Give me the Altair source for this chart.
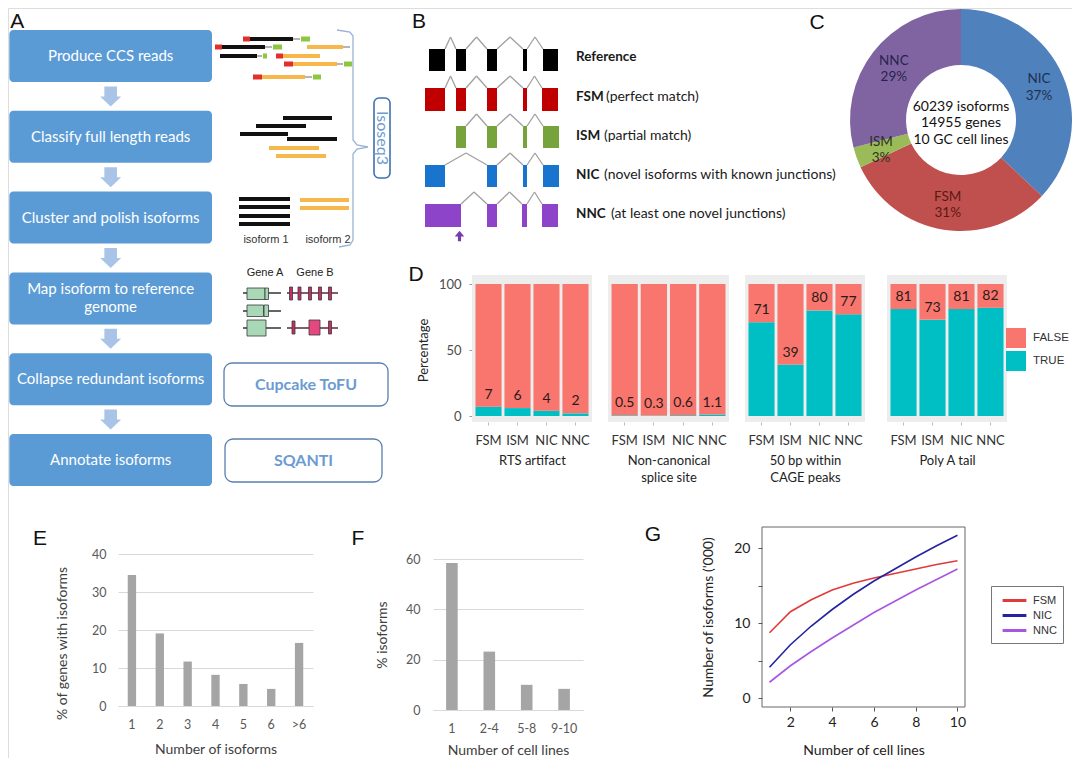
import altair as alt
import pandas as pd
import numpy as np

W, H = 1064, 750
FONT = "Lato"
ARIAL = "Liberation Sans"

# reference-pixel -> chart-pixel mapping (page has an 8px margin; squeeze only the outer 24px)
XK = [0, 24, 1056, 1080]
XV = [0, 16, 1048, 1064]
YK = [0, 24, 742, 766]
YV = [0, 16, 734, 750]


def fx(v):
    return float(np.interp(v, XK, XV))


def fy(v):
    return float(np.interp(v, YK, YV))


def IX():
    return alt.Scale(domain=XK, range=XV, zero=False, nice=False)


def IY():
    return alt.Scale(domain=YK, range=YV, zero=False, nice=False)


# ====================== DATA ======================
top_letters = ["A", "B", "C"]
top_letter_x = [14, 419, 817]
top_letter_y = [5, 5, 6]
mid_letters = ["D", "E", "F", "G"]
mid_letter_x = [416, 40, 358, 653]
mid_letter_y = [275, 539, 539, 535]

# Panel A - pipeline
flow_steps = ["Produce CCS reads", "Classify full length reads", "Cluster and polish isoforms",
              "Map isoform to reference genome", "Collapse redundant isoforms", "Annotate isoforms"]
flow_labels = ["Produce CCS reads", "Classify full length reads", "Cluster and polish isoforms",
               "Map isoform to reference\ngenome", "Collapse redundant isoforms", "Annotate isoforms"]
tool_names = ["Cupcake ToFU", "SQANTI"]
tool_box_x0 = [224, 225]
tool_box_x1 = [388, 382]
tool_box_y0 = [363, 439]
tool_box_y1 = [406, 482]

read_x0 = [243, 250, 293, 301, 215, 222, 265, 273, 307, 343, 220, 257, 263, 276, 283, 284, 293, 337, 344, 253, 262, 305, 313]
read_x1 = [250, 293, 300, 310, 222, 265, 272, 282, 343, 350, 257, 262, 267, 283, 320, 293, 337, 343, 352, 262, 305, 312, 321]
read_y = [39, 39, 39, 39, 47, 47, 47, 47, 47, 47, 56, 56, 56, 56, 56, 64, 64, 64, 64, 77, 77, 77, 77]
read_kind = ["r", "k", "g", "G", "r", "k", "g", "G", "o", "g", "k", "g", "G", "r", "o", "r", "o", "g", "G", "r", "o", "g", "G"]
clas_x0 = [283, 256, 240, 287, 269, 276]
clas_x1 = [332, 306, 288, 337, 319, 326]
clas_y = [118, 126, 134, 139, 148, 156]
clas_kind = ["k", "k", "k", "k", "o", "o"]
clus_x0 = [239, 239, 239, 239, 300, 300]
clus_x1 = [290, 290, 290, 290, 349, 349]
clus_y = [199, 207, 216, 224, 200, 208]
clus_kind = ["k", "k", "k", "k", "o", "o"]
kind_color = {"r": "#E0302C", "k": "#111111", "g": "#B5B5B5", "G": "#8DC63F", "o": "#F6B84A"}
kind_width = {"r": 5, "k": 4, "g": 2, "G": 5, "o": 4}

brace_x = [337, 350, 353, 353, 357, 368, 357, 353, 353, 350, 339]
brace_y = [30, 32, 36, 140, 145, 147, 149, 154, 240, 245, 247]

geneline_x0 = [243, 243, 243, 287, 287]
geneline_x1 = [281, 281, 281, 338, 338]
geneline_y = [293, 311, 328, 293, 328]
geneline_c = ["#333333", "#333333", "#333333", "#5A2A33", "#5A2A33"]
gexon_x0 = [247, 265, 247, 264, 247, 289.5, 298, 308.5, 318.5, 328.5, 292, 309, 328.5]
gexon_x1 = [265, 268.5, 263.5, 268.5, 266, 292.5, 301, 311.5, 321.5, 331.5, 295, 320, 331.5]
gexon_y0 = [288, 288, 305, 305, 320, 287, 287, 287, 287, 287, 321, 320, 321]
gexon_y1 = [299.5, 299.5, 316.5, 316.5, 336, 300, 300, 300, 300, 300, 334, 335, 334]
gexon_c = ["#A8D8B6"] * 5 + ["#C2306A"] * 5 + ["#C2306A", "#E4487E", "#C2306A"]

# Panel B - exon structures
b_rows = ["Reference", "FSM", "ISM", "NIC", "NNC"]
b_desc = ["(perfect match)", "(partial match)", "(novel isoforms with known junctions)",
          "(at least one novel junctions)"]
b_desc_x = [606, 604, 604, 611]
b_colors = ["#000000", "#C00000", "#77A33C", "#1874CD", "#8E44C8"]
b_top = [49, 88, 126, 165, 204]
b_bot = [71, 111, 148, 187, 227]
b_label_y = [57, 97, 136, 175, 214]
b_exons = [
    [(429, 445), (456, 466), (487, 497), (523, 527), (543, 558)],
    [(425, 445), (456, 466), (487, 497), (523, 527), (542, 558)],
    [(456, 466), (487, 497), (523, 527), (543, 559)],
    [(425, 445), (487, 497), (523, 527), (543, 559)],
    [(425, 461), (487, 497), (522, 527), (542, 558)],
]

# Panel C - donut
c_names = ["NIC", "FSM", "ISM", "NNC"]
c_values = [37, 31, 3, 29]
c_colors = ["#4F81BD", "#C0504D", "#9BBB59", "#8064A2"]
c_text_colors = ["#1F3050", "#5A1A18", "#2A3320", "#26244A"]
c_center_text = "60239 isoforms\n14955 genes\n10 GC cell lines"

# Panel D - stacked percentage bars
d_cats = ["FSM", "ISM", "NIC", "NNC"]
d_titles = ["RTS artifact", ["Non-canonical", "splice site"], ["50 bp within", "CAGE peaks"], "Poly A tail"]
d_true = [[7, 6, 4, 2], [0.5, 0.3, 0.6, 1.1], [71, 39, 80, 77], [81, 73, 81, 82]]
d_status = ["FALSE", "TRUE"]
d_colors = ["#F8766D", "#00BFC4"]

# Panel E
e_cats = ["1", "2", "3", "4", "5", "6", ">6"]
e_vals = [34.5, 19.1, 11.7, 8.2, 5.8, 4.5, 16.6]

# Panel F
f_cats = ["1", "2-4", "5-8", "9-10"]
f_vals = [58.4, 23.2, 10.0, 8.4]

# Panel G
g_x = [1, 2, 3, 4, 5, 6, 7, 8, 9, 10]
g_fsm = [8.7, 11.5, 13.1, 14.4, 15.3, 16.0, 16.6, 17.2, 17.8, 18.3]
g_nic = [4.1, 7.1, 9.6, 11.8, 13.8, 15.6, 17.2, 18.8, 20.3, 21.7]
g_nnc = [2.1, 4.3, 6.2, 8.0, 9.7, 11.4, 12.9, 14.4, 15.8, 17.2]
g_series = ["FSM", "NIC", "NNC"]
g_colors = ["#E03A3A", "#2424A0", "#A855E0"]

# ====================== LAYERS ======================
layers = []


def ix(f="x"):
    return alt.X(f + ":Q", scale=IX(), axis=None)


def iy(f="y"):
    return alt.Y(f + ":Q", scale=IY(), axis=None)


layers.append(alt.Chart(pd.DataFrame({"t": top_letters, "x": top_letter_x, "y": top_letter_y})).mark_text(
    font=ARIAL, fontSize=21, color="#111111", align="center", baseline="top").encode(
    x=ix(), y=iy(), text="t:N"))
layers.append(alt.Chart(pd.DataFrame({"t": mid_letters, "x": mid_letter_x, "y": mid_letter_y})).mark_text(
    font=ARIAL, fontSize=21, color="#111111", align="center", baseline="middle").encode(
    x=ix(), y=iy(), text="t:N"))

# ---------------- Panel A ----------------
FLOW_PI = 0.356
flow_step_px = (fy(486) - fy(30)) / (len(flow_steps) - FLOW_PI)


def flow_x():
    return alt.X("col:N", scale=alt.Scale(type="band", domain=["flow"], range=[fx(2), fx(212)],
                                          paddingInner=0, paddingOuter=0), axis=None)


def flow_y():
    return alt.Y("step:N", scale=alt.Scale(type="band", domain=flow_steps, range=[fy(30), fy(486)],
                                           paddingInner=FLOW_PI, paddingOuter=0), axis=None)


flow_df = pd.DataFrame({"step": flow_steps, "label": flow_labels, "col": ["flow"] * len(flow_steps)})
flow_df["lines"] = flow_df["label"].str.count("\n") + 1
layers.append(alt.Chart(flow_df).mark_rect(color="#5B9BD5", cornerRadius=4).encode(x=flow_x(), y=flow_y()))
layers.append(alt.Chart(flow_df[flow_df["lines"] == 1]).mark_text(
    color="white", font=FONT, fontSize=15, baseline="middle").encode(x=flow_x(), y=flow_y(), text="label:N"))
layers.append(alt.Chart(flow_df[flow_df["lines"] == 2]).mark_text(
    color="white", font=FONT, fontSize=15, baseline="middle", lineBreak="\n", lineHeight=18, dy=-9).encode(
    x=flow_x(), y=flow_y(), text="label:N"))
ARROW = "M-0.6,-0.95 L0.6,-0.95 L0.6,0 L1,0 L0,0.95 L-1,0 L-0.6,0 Z"
layers.append(alt.Chart(flow_df.iloc[:-1]).mark_point(shape=ARROW, size=441, filled=True, color="#A9C4E6", opacity=1,
                                                       yOffset=flow_step_px / 2).encode(x=flow_x(), y=flow_y()))

seg_df = pd.DataFrame({
    "x0": read_x0 + clas_x0 + clus_x0,
    "x1": read_x1 + clas_x1 + clus_x1,
    "y": read_y + clas_y + clus_y,
    "k": read_kind + clas_kind + clus_kind,
})
seg_df["c"] = seg_df["k"].map(kind_color)
seg_df["w"] = seg_df["k"].map(kind_width)
layers.append(alt.Chart(seg_df).mark_rule().encode(
    x=ix("x0"), x2="x1:Q", y=iy(), color=alt.Color("c:N", scale=None), size=alt.Size("w:Q", scale=None)))
layers.append(alt.Chart(pd.DataFrame({"t": ["isoform 1", "isoform 2"], "x": [266, 328], "y": [240, 240]})).mark_text(
    font=ARIAL, fontSize=11, color="#333333", baseline="middle").encode(x=ix(), y=iy(), text="t:N"))

layers.append(alt.Chart(pd.DataFrame({"x": brace_x, "y": brace_y, "o": list(range(len(brace_x)))})).mark_line(
    color="#9AB3D5", strokeWidth=1.3).encode(x=ix(), y=iy(), order="o:Q"))
layers.append(alt.Chart(pd.DataFrame({"x0": [374], "x1": [390], "y0": [98], "y1": [178]})).mark_rect(
    fill="white", stroke="#3F72AF", strokeWidth=1.6, cornerRadius=5).encode(x=ix("x0"), x2="x1:Q", y=iy("y0"), y2="y1:Q"))
layers.append(alt.Chart(pd.DataFrame({"t": ["Isoseq3"], "x": [382], "y": [138]})).mark_text(
    font=FONT, fontSize=16, color="#6D9BD1", angle=90, baseline="middle").encode(x=ix(), y=iy(), text="t:N"))

layers.append(alt.Chart(pd.DataFrame({"t": ["Gene A", "Gene B"], "x": [265, 315], "y": [273, 273]})).mark_text(
    font=ARIAL, fontSize=11, color="#222222", baseline="middle").encode(x=ix(), y=iy(), text="t:N"))
layers.append(alt.Chart(pd.DataFrame({"x0": geneline_x0, "x1": geneline_x1, "y": geneline_y, "c": geneline_c})).mark_rule(
    strokeWidth=1.6).encode(x=ix("x0"), x2="x1:Q", y=iy(), color=alt.Color("c:N", scale=None)))
layers.append(alt.Chart(pd.DataFrame({"x0": gexon_x0, "x1": gexon_x1, "y0": gexon_y0, "y1": gexon_y1, "c": gexon_c})).mark_rect(
    stroke="#3A3A3A", strokeWidth=0.8).encode(x=ix("x0"), x2="x1:Q", y=iy("y0"), y2="y1:Q", color=alt.Color("c:N", scale=None)))

tools_df = pd.DataFrame({"t": tool_names, "x0": tool_box_x0, "x1": tool_box_x1, "y0": tool_box_y0, "y1": tool_box_y1})
tools_df["xm"] = (tools_df["x0"] + tools_df["x1"]) / 2
tools_df["ym"] = (tools_df["y0"] + tools_df["y1"]) / 2
layers.append(alt.Chart(tools_df).mark_rect(fill="white", stroke="#5A7FAF", strokeWidth=1.3, cornerRadius=8).encode(
    x=ix("x0"), x2="x1:Q", y=iy("y0"), y2="y1:Q"))
layers.append(alt.Chart(tools_df).mark_text(font=FONT, fontSize=16, fontWeight="bold", color="#6C9BD2",
                                            baseline="middle").encode(x=ix("xm"), y=iy("ym"), text="t:N"))

# ---------------- Panel B ----------------
ex_rows, in_rows = [], []
for i, row in enumerate(b_rows):
    ex = b_exons[i]
    for (a, b) in ex:
        ex_rows.append({"x0": a, "x1": b, "y0": b_top[i], "y1": b_bot[i], "c": b_colors[i]})
    for j in range(len(ex) - 1):
        s, e = ex[j][1], ex[j + 1][0]
        m = (s + e) / 2
        in_rows.append({"x0": s, "y0": b_top[i], "x1": m, "y1": b_top[i] - 12})
        in_rows.append({"x0": m, "y0": b_top[i] - 12, "x1": e, "y1": b_top[i]})
layers.append(alt.Chart(pd.DataFrame(in_rows)).mark_rule(color="#A0A0A0", strokeWidth=1.3).encode(
    x=ix("x0"), x2="x1:Q", y=iy("y0"), y2="y1:Q"))
layers.append(alt.Chart(pd.DataFrame(ex_rows)).mark_rect().encode(
    x=ix("x0"), x2="x1:Q", y=iy("y0"), y2="y1:Q", color=alt.Color("c:N", scale=None)))
UPARROW = "M0,-1 L0.9,0.1 L0.3,0.1 L0.3,1 L-0.3,1 L-0.3,0.1 L-0.9,0.1 Z"
layers.append(alt.Chart(pd.DataFrame({"x": [459.5], "y": [236]})).mark_point(
    shape=UPARROW, size=110, filled=True, color="#7A3AB0", opacity=1).encode(x=ix(), y=iy()))
layers.append(alt.Chart(pd.DataFrame({"t": b_rows, "x": [576] * 5, "y": b_label_y})).mark_text(
    font=FONT, fontSize=13.5, fontWeight="bold", color="#1A1A1A", align="left", baseline="middle").encode(
    x=ix(), y=iy(), text="t:N"))
layers.append(alt.Chart(pd.DataFrame({"t": b_desc, "x": b_desc_x, "y": b_label_y[1:]})).mark_text(
    font=FONT, fontSize=14, color="#1A1A1A", align="left", baseline="middle").encode(
    x=ix(), y=iy(), text="t:N"))

# ---------------- Panel C ----------------
C_CX, C_CY, C_R = 961, 120, 111


def cx():
    return alt.X("cx:Q", scale=alt.Scale(domain=[-1, 1], range=[C_CX - C_R - 8, C_CX + C_R - 8], zero=False, nice=False), axis=None)


def cy():
    return alt.Y("cy:Q", scale=alt.Scale(domain=[-1, 1], range=[C_CY + C_R - 8, C_CY - C_R - 8], zero=False, nice=False), axis=None)


c_df = pd.DataFrame({"name": c_names, "val": c_values, "c": c_colors,
                     "o": list(range(len(c_names))), "cx": 0.0, "cy": 0.0})
layers.append(alt.Chart(c_df).mark_arc(radius=C_R, innerRadius=55).encode(
    x=cx(), y=cy(), theta=alt.Theta("val:Q", stack=True), order=alt.Order("o:Q"),
    color=alt.Color("c:N", scale=None)))
cum = np.cumsum(c_values)
mid = (cum - np.array(c_values) / 2) / np.sum(c_values) * 2 * np.pi
lab_r = 85 / C_R
clab = pd.DataFrame({"t": [f"{n}\n{v}%" for n, v in zip(c_names, c_values)],
                     "cx": lab_r * np.sin(mid), "cy": lab_r * np.cos(mid), "tc": c_text_colors})
layers.append(alt.Chart(clab).mark_text(font=FONT, fontSize=13.5, lineBreak="\n", lineHeight=16.5,
                                        baseline="middle", dy=-7).encode(
    x=cx(), y=cy(), text="t:N", color=alt.Color("tc:N", scale=None)))
layers.append(alt.Chart(pd.DataFrame({"t": [c_center_text], "cx": [0.0], "cy": [0.0]})).mark_text(
    font=FONT, fontSize=14, lineBreak="\n", lineHeight=16.5, color="#111111", baseline="middle", dy=-13.5).encode(
    x=cx(), y=cy(), text="t:N"))

# ---------------- Panel D ----------------
D_X = [(472, 592), (608, 729), (745, 865), (887, 1007)]
D_Y0, D_Y100 = 416, 284
D_BOTTOM, D_TOP = 422, 275
D_LO = (D_Y0 - D_BOTTOM) / (D_Y0 - D_Y100) * 100
D_HI = (D_Y0 - D_TOP) / (D_Y0 - D_Y100) * 100


def d_yscale():
    return alt.Scale(domain=[0, 100], range=[fy(D_Y0), fy(D_Y100)], zero=False, nice=False)


def d_xscale(a, b):
    return alt.Scale(type="band", domain=d_cats, range=[fx(a), fx(b)], paddingInner=0.1, paddingOuter=0.12)


for i, (a, b) in enumerate(D_X):
    bg = pd.DataFrame({"x0": [0], "x1": [1], "y0": [D_LO], "y1": [D_HI]})
    layers.append(alt.Chart(bg).mark_rect(color="#EDEDED").encode(
        x=alt.X("x0:Q", scale=alt.Scale(domain=[0, 1], range=[fx(a), fx(b)], zero=False, nice=False), axis=None),
        x2="x1:Q",
        y=alt.Y("y0:Q", scale=d_yscale(), axis=None), y2="y1:Q"))
    rows = []
    for cat, t in zip(d_cats, d_true[i]):
        rows.append({"cat": cat, "status": "TRUE", "lo": 0, "hi": t})
        rows.append({"cat": cat, "status": "FALSE", "lo": t, "hi": 100})
    ddf = pd.DataFrame(rows)
    x_axis = alt.Axis(orient="bottom", offset=fy(D_BOTTOM) - H, title=d_titles[i], domain=False,
                      ticks=True, tickColor="#BBBBBB", tickSize=3, labelPadding=9, labelAngle=0,
                      labelFont=FONT, labelFontSize=13, labelColor="#333333", labelOverlap=False,
                      titleFont=FONT, titleFontSize=13, titleFontWeight="normal", titleColor="#222222",
                      titlePadding=7, titleLineHeight=17)
    if i == 0:
        y_axis = alt.Axis(orient="left", offset=-fx(a), title="Percentage", values=[0, 50, 100], domain=False,
                          grid=False, tickColor="#999999", tickSize=3, labelPadding=8, labelFont=FONT,
                          labelFontSize=13, labelColor="#4D4D4D", labelFlush=False,
                          titleFont=FONT, titleFontSize=13, titleFontWeight="normal", titleColor="#222222",
                          titlePadding=8)
        legend = alt.Legend(orient="none", legendX=fx(1006), legendY=fy(328), title=None, symbolType="square",
                            symbolSize=400, symbolStrokeWidth=0, symbolOpacity=1, labelFont=ARIAL,
                            labelFontSize=11.5, labelColor="#333333", rowPadding=3, padding=0, labelOffset=7)
    else:
        y_axis = None
        legend = None
    layers.append(alt.Chart(ddf).mark_bar().encode(
        x=alt.X("cat:N", scale=d_xscale(a, b), axis=x_axis),
        y=alt.Y("lo:Q", scale=d_yscale(), axis=y_axis), y2="hi:Q",
        color=alt.Color("status:N", scale=alt.Scale(domain=d_status, range=d_colors), legend=legend)))
    tdf = pd.DataFrame({"cat": d_cats, "v": d_true[i], "t": [f"{v:g}" for v in d_true[i]]})
    layers.append(alt.Chart(tdf).mark_text(font=FONT, fontSize=14, color="#2A1A1A", dy=-12, baseline="middle").encode(
        x=alt.X("cat:N", scale=d_xscale(a, b), axis=None),
        y=alt.Y("v:Q", scale=d_yscale(), axis=None), text="t:N"))


# ---------------- Panels E and F ----------------
def excel_bar(cats, vals, xr, y0px, ytop_px, ymax, yticks, pinner, pouter, xtitle, ytitle, ytitle_y,
              y_lab_pad, y_title_pad, x_title_pad):
    df = pd.DataFrame({"cat": cats, "v": vals})
    xa = alt.Axis(orient="bottom", offset=fy(y0px) - H, title=xtitle, domain=True, domainColor="#D9D9D9",
                  ticks=False, labelPadding=12, labelAngle=0, labelFont=FONT, labelFontSize=12.5,
                  labelColor="#595959", titleFont=FONT, titleFontSize=14, titleFontWeight="normal",
                  titleColor="#404040", titlePadding=x_title_pad)
    ya_kw = dict(orient="left", offset=-fx(xr[0]), title=ytitle, values=yticks, domain=False, ticks=False,
                 grid=True, gridColor="#D9D9D9", labelPadding=y_lab_pad, labelFont=FONT, labelFontSize=12.5,
                 labelColor="#595959", labelFlush=False, titleFont=FONT, titleFontSize=14,
                 titleFontWeight="normal", titleColor="#404040", titlePadding=y_title_pad)
    if ytitle_y is not None:
        ya_kw["titleY"] = fy(ytitle_y)
    return alt.Chart(df).mark_bar(color="#A5A5A5").encode(
        x=alt.X("cat:N", sort=None, scale=alt.Scale(type="band", domain=cats, range=[fx(xr[0]), fx(xr[1])],
                                                   paddingInner=pinner, paddingOuter=pouter), axis=xa),
        y=alt.Y("v:Q", scale=alt.Scale(domain=[0, ymax], range=[fy(y0px), fy(ytop_px)], zero=False, nice=False),
                axis=alt.Axis(**ya_kw)))


layers.append(excel_bar(e_cats, e_vals, (118, 313), 706, 554, 40, [0, 10, 20, 30, 40], 0.7, 0.35,
                        "Number of isoforms", "% of genes with isoforms", 643, 12, 22, 12))
layers.append(excel_bar(f_cats, f_vals, (433, 583), 710, 559, 60, [0, 20, 40, 60], 0.69, 0.35,
                        "Number of cell lines", "% isoforms", None, 13, 16, 9))

# ---------------- Panel G ----------------
G_XD = [0.64, 10.36]
G_YD = [-1.2, 22.8]
G_XR = (762, 965)
G_YR = (707, 527)


def gx(f, axis=None):
    return alt.X(f + ":Q", scale=alt.Scale(domain=G_XD, range=[fx(G_XR[0]), fx(G_XR[1])], zero=False, nice=False), axis=axis)


def gy(f, axis=None):
    return alt.Y(f + ":Q", scale=alt.Scale(domain=G_YD, range=[fy(G_YR[0]), fy(G_YR[1])], zero=False, nice=False), axis=axis)


g_df = pd.DataFrame({
    "x": g_x * 3,
    "v": g_fsm + g_nic + g_nnc,
    "s": ["FSM"] * 10 + ["NIC"] * 10 + ["NNC"] * 10,
})
gxa = alt.Axis(orient="bottom", offset=fy(G_YR[0]) - H, values=[2, 4, 6, 8, 10], title="Number of cell lines",
               domain=False, tickColor="#555555", tickSize=4, labelPadding=4, labelFont=FONT, labelFontSize=14,
               labelColor="#222222", labelFlush=False, titleFont=FONT, titleFontSize=14, titleFontWeight="normal",
               titleColor="#222222", titlePadding=14)
gya = alt.Axis(orient="left", offset=-fx(G_XR[0]), values=[0, 5, 10, 15, 20], title="Number of isoforms ('000)",
               labelExpr="datum.value % 10 == 0 ? datum.label : ''", domain=False, grid=False,
               tickColor="#555555", tickSize=4, labelPadding=8, labelFont=FONT, labelFontSize=14,
               labelColor="#222222", labelFlush=False, titleFont=FONT, titleFontSize=14,
               titleFontWeight="normal", titleColor="#222222", titlePadding=18)
LEG_LINE = "M-1.7,0 L1.7,0"
g_legend = alt.Legend(orient="none", legendX=fx(991), legendY=fy(586), title=None, symbolType=LEG_LINE,
                      symbolSize=196, symbolStrokeWidth=3, labelFont=ARIAL, labelFontSize=11,
                      labelColor="#333333", strokeColor="#777777", fillColor="white", padding=6,
                      symbolOffset=9, labelOffset=10, rowPadding=0)
layers.append(alt.Chart(g_df).mark_line(strokeWidth=1.6).encode(
    x=gx("x", gxa), y=gy("v", gya), detail="s:N",
    color=alt.Color("s:N", scale=alt.Scale(domain=g_series, range=g_colors), legend=g_legend)))
layers.append(alt.Chart(pd.DataFrame({"x0": [G_XD[0]], "x1": [G_XD[1]], "y0": [G_YD[0]], "y1": [G_YD[1]]})).mark_rect(
    fillOpacity=0, stroke="#666666", strokeWidth=1).encode(x=gx("x0"), x2="x1:Q", y=gy("y0"), y2="y1:Q"))

chart = alt.layer(*layers).resolve_scale(
    x="independent", y="independent", color="independent", size="independent", theta="independent"
).resolve_axis(x="independent", y="independent").resolve_legend(color="independent").properties(
    width=W, height=H, autosize=alt.AutoSizeParams(type="none"), padding=0
).configure_view(stroke=None).configure(background="white")

chart.save("out.html", embed_options={"renderer": "svg", "actions": False})
